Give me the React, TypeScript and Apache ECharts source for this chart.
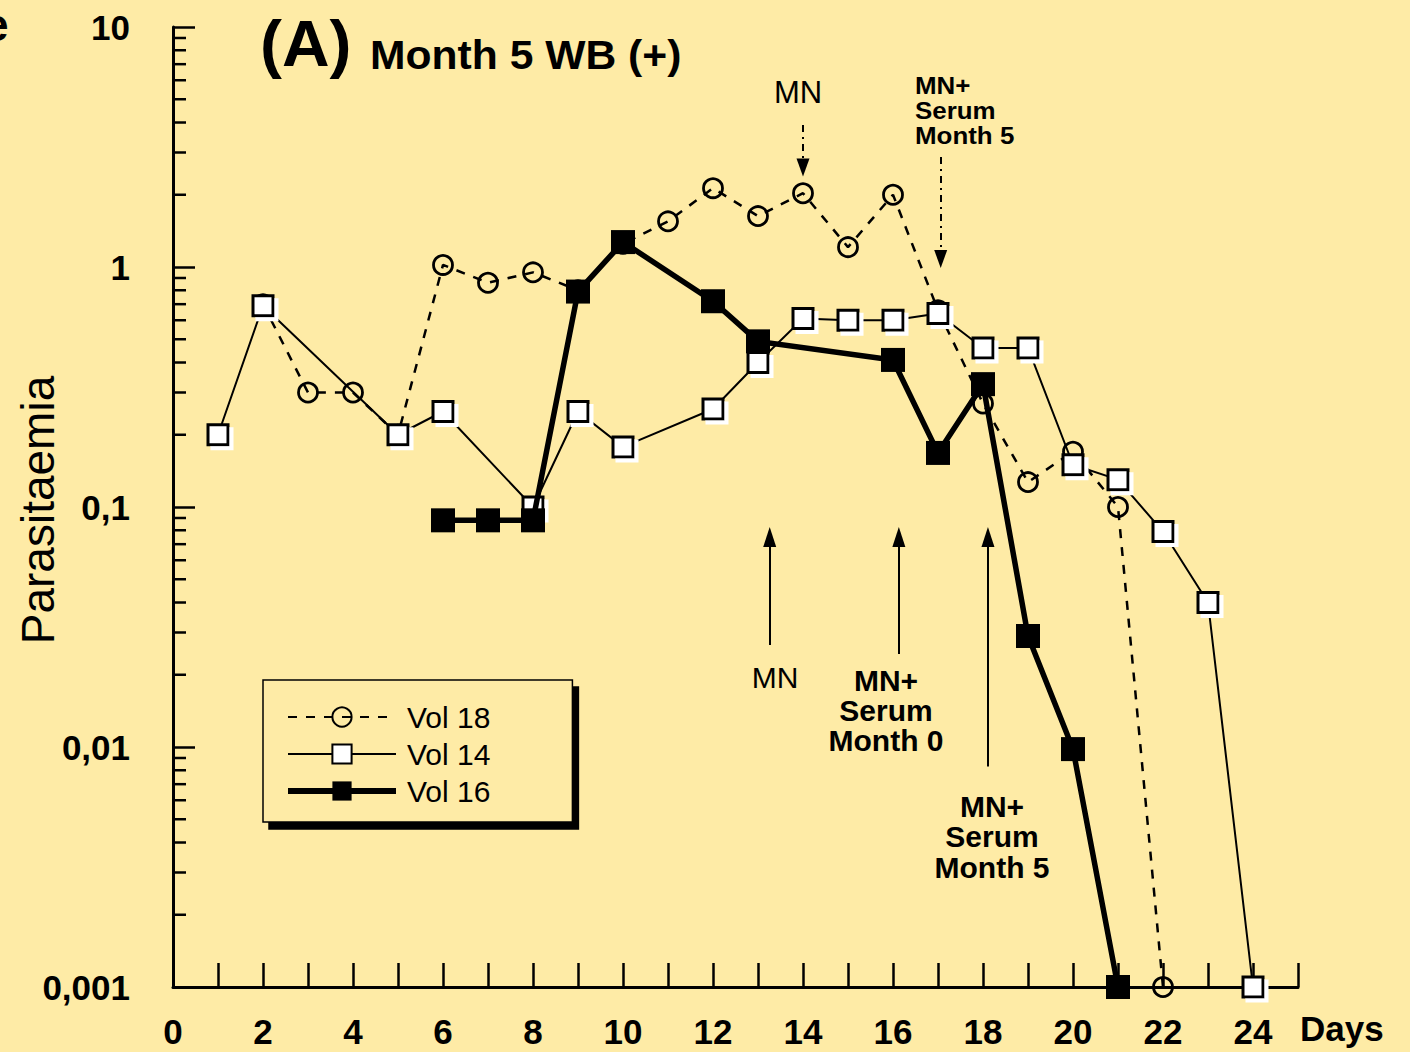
import React, { useEffect, useRef } from "react";
import * as echarts from "echarts";

// ---- data ----
const days18 = [2, 3, 4, 5, 6, 7, 8, 9, 10, 11, 12, 13, 14, 15, 16, 17, 18, 19, 20, 21, 22];
const vol18 = [0.7, 0.3, 0.3, 0.2, 1.02, 0.86, 0.95, 0.8, 1.25, 1.55, 2.13, 1.63, 2.03, 1.21, 2.0, 0.66, 0.27, 0.127, 0.17, 0.1, 0.001];

const days14 = [1, 2, 5, 6, 8, 9, 10, 12, 13, 14, 15, 16, 17, 18, 19, 20, 21, 22, 23, 24];
const vol14 = [0.2, 0.69, 0.2, 0.25, 0.1, 0.25, 0.178, 0.256, 0.4, 0.61, 0.6, 0.6, 0.64, 0.46, 0.46, 0.15, 0.13, 0.079, 0.04, 0.001];

const days16 = [6, 7, 8, 9, 10, 12, 13, 16, 17, 18, 19, 20, 21];
const vol16 = [0.088, 0.088, 0.088, 0.79, 1.27, 0.72, 0.49, 0.41, 0.168, 0.325, 0.029, 0.0098, 0.001];

const seriesNames = ["Vol 18", "Vol 14", "Vol 16"];

// annotation arrows: [day, fromValue, toValue]
const upArrows = [
  [13.26, 0.0266, 0.075],
  [16.13, 0.0244, 0.075],
  [18.11, 0.0083, 0.075],
];
const downArrows = [
  [14.0, 3.91, 2.6],
  [17.06, 2.87, 1.08],
];

const yLabelMap: Record<string, string> = {
  "0.001": "0,001",
  "0.01": "0,01",
  "0.1": "0,1",
  "1": "1",
  "10": "10",
};

const BG = "#FEEBA6";
const FONT = "'Liberation Sans', Arial, sans-serif";

const minorTickValues: number[] = [];
for (let e = -3; e < 1; e++) {
  for (let m = 2; m <= 9; m++) minorTickValues.push(Number((m * Math.pow(10, e)).toPrecision(3)));
}

function zip(xs: number[], ys: number[]) {
  return xs.map((x, i) => [x, ys[i]]);
}

export default function App() {
  const ref = useRef<HTMLDivElement>(null);
  useEffect(() => {
    if (!ref.current) return;
    const chart = echarts.init(ref.current, undefined, { renderer: "svg" });
    const arrowLines = upArrows.map((a) => [
      { coord: [a[0], a[1]], symbol: "none" },
      { coord: [a[0], a[2]], symbol: "triangle", symbolSize: [13, 20] },
    ]);
    const downLines = downArrows.map((a) => [
      { coord: [a[0], a[1]], symbol: "none" },
      { coord: [a[0], a[2]], symbol: "triangle", symbolSize: [13, 18] },
    ]);
    const option: any = {
      animation: false,
      backgroundColor: BG,
      textStyle: { fontFamily: FONT },
      grid: { left: 173, right: 112, top: 27, bottom: 65, containLabel: false },
      xAxis: {
        type: "value",
        min: 0,
        max: 25,
        interval: 1,
        axisLine: { lineStyle: { color: "#000", width: 3 } },
        axisTick: { inside: true, length: 24, lineStyle: { color: "#000", width: 2.5 } },
        splitLine: { show: false },
        axisLabel: {
          color: "#000",
          fontSize: 35,
          fontWeight: "bold",
          fontFamily: FONT,
          margin: 27,
          formatter: (v: number) => (v % 2 === 0 ? String(v) : ""),
        },
      },
      yAxis: {
        type: "log",
        logBase: 10,
        min: 0.001,
        max: 10,
        axisLine: { lineStyle: { color: "#000", width: 3 } },
        axisTick: { inside: true, length: 22, lineStyle: { color: "#000", width: 2.5 } },
        splitLine: { show: false },
        axisLabel: {
          color: "#000",
          fontSize: 35,
          fontWeight: "bold",
          fontFamily: FONT,
          margin: 43,
          formatter: (v: number) => yLabelMap[String(Number(v.toPrecision(1)))] ?? String(v),
        },
      },
      legend: {
        data: [
          { name: "Vol 18" },
          { name: "Vol 14" },
          { name: "Vol 16", lineStyle: { width: 6 } },
        ],
        orient: "vertical",
        left: 263,
        top: 680,
        itemWidth: 108,
        itemHeight: 24,
        itemGap: 7,
        padding: [22, 82, 16, 22],
        backgroundColor: BG,
        borderColor: "#000",
        borderWidth: 1.5,
        shadowColor: "#000",
        shadowBlur: 0,
        shadowOffsetX: 6,
        shadowOffsetY: 7,
        textStyle: { color: "#000", fontSize: 30, fontFamily: FONT, lineHeight: 30, padding: [0, 0, 0, 6] },
        selectedMode: false,
      },
      series: [
        {
          type: "custom",
          silent: true,
          data: minorTickValues.map((v) => [0, v]),
          encode: { x: 0, y: 1 },
          renderItem: (_p: any, api: any) => {
            const pt = api.coord([0, api.value(1)]);
            return {
              type: "line",
              shape: { x1: pt[0], y1: pt[1], x2: pt[0] + 13, y2: pt[1] },
              style: { stroke: "#000", lineWidth: 2.5 },
            };
          },
          z: 1,
        },
        {
          name: seriesNames[0],
          type: "line",
          data: zip(days18, vol18),
          symbol: "circle",
          symbolSize: 19,
          lineStyle: { color: "#000", width: 2.5, type: [9, 9] },
          itemStyle: { color: "rgba(0,0,0,0)", borderColor: "#000", borderWidth: 2.8 },
          z: 2,
        },
        {
          name: seriesNames[1],
          type: "line",
          data: zip(days14, vol14),
          symbol: "rect",
          symbolSize: 20,
          lineStyle: { color: "#000", width: 2 },
          itemStyle: {
            color: "#fff",
            borderColor: "#000",
            borderWidth: 3,
            shadowColor: "#fff",
            shadowBlur: 0,
            shadowOffsetX: 4,
            shadowOffsetY: 4,
          },
          z: 3,
        },
        {
          name: seriesNames[2],
          type: "line",
          data: zip(days16, vol16),
          symbol: "rect",
          symbolSize: 24,
          lineStyle: { color: "#000", width: 5.5 },
          itemStyle: { color: "#000", borderColor: "#000", borderWidth: 0 },
          z: 4,
        },
        {
          type: "line",
          data: [],
          silent: true,
          markLine: {
            silent: true,
            animation: false,
            label: { show: false },
            lineStyle: { color: "#000", width: 2, type: "solid" },
            symbol: ["none", "triangle"],
            data: arrowLines,
          },
        },
        {
          type: "line",
          data: [],
          silent: true,
          markLine: {
            silent: true,
            animation: false,
            label: { show: false },
            lineStyle: { color: "#000", width: 2, type: [7, 5, 2, 5] },
            symbol: ["none", "triangle"],
            data: downLines,
          },
        },
      ],
      graphic: [
        { type: "text", left: -17, top: 2, style: { text: "e", font: `bold 46px ${FONT}`, fill: "#000" } },
        { type: "text", x: 260, y: 12, scaleX: 1.03, style: { text: "(A)", font: `bold 64px ${FONT}`, fill: "#000" } },
        { type: "text", x: 370, y: 34, scaleX: 1.04, style: { text: "Month 5 WB (+)", font: `bold 41px ${FONT}`, fill: "#000" } },
        { type: "text", left: 1300, top: 1011, style: { text: "Days", font: `bold 35px ${FONT}`, fill: "#000" } },
        {
          type: "text",
          x: 38,
          y: 510,
          rotation: Math.PI / 2,
          style: { text: "Parasitaemia", font: `46px ${FONT}`, fill: "#000", align: "center", verticalAlign: "middle" },
        },
        { type: "text", x: 798, y: 92, style: { text: "MN", font: `31px ${FONT}`, fill: "#000", align: "center", verticalAlign: "middle" } },
        {
          type: "text",
          x: 915,
          y: 73,
          scaleX: 1.08,
          style: { text: "MN+\nSerum\nMonth 5", font: `bold 24px ${FONT}`, lineHeight: 25, fill: "#000", align: "left", verticalAlign: "top" },
        },
        { type: "text", x: 775, y: 677, style: { text: "MN", font: `30px ${FONT}`, fill: "#000", align: "center", verticalAlign: "middle" } },
        {
          type: "text",
          x: 886,
          y: 665,
          style: { text: "MN+\nSerum\nMonth 0", font: `bold 30px ${FONT}`, lineHeight: 30, fill: "#000", align: "center", verticalAlign: "top" },
        },
        {
          type: "text",
          x: 992,
          y: 791,
          style: { text: "MN+\nSerum\nMonth 5", font: `bold 30px ${FONT}`, lineHeight: 30.5, fill: "#000", align: "center", verticalAlign: "top" },
        },
      ],
    };
    chart.setOption(option);
    return () => chart.dispose();
  }, []);
  return (
    <div
      ref={ref}
      style={{ position: "absolute", left: 0, top: 0, width: 1410, height: 1052 }}
    />
  );
}
